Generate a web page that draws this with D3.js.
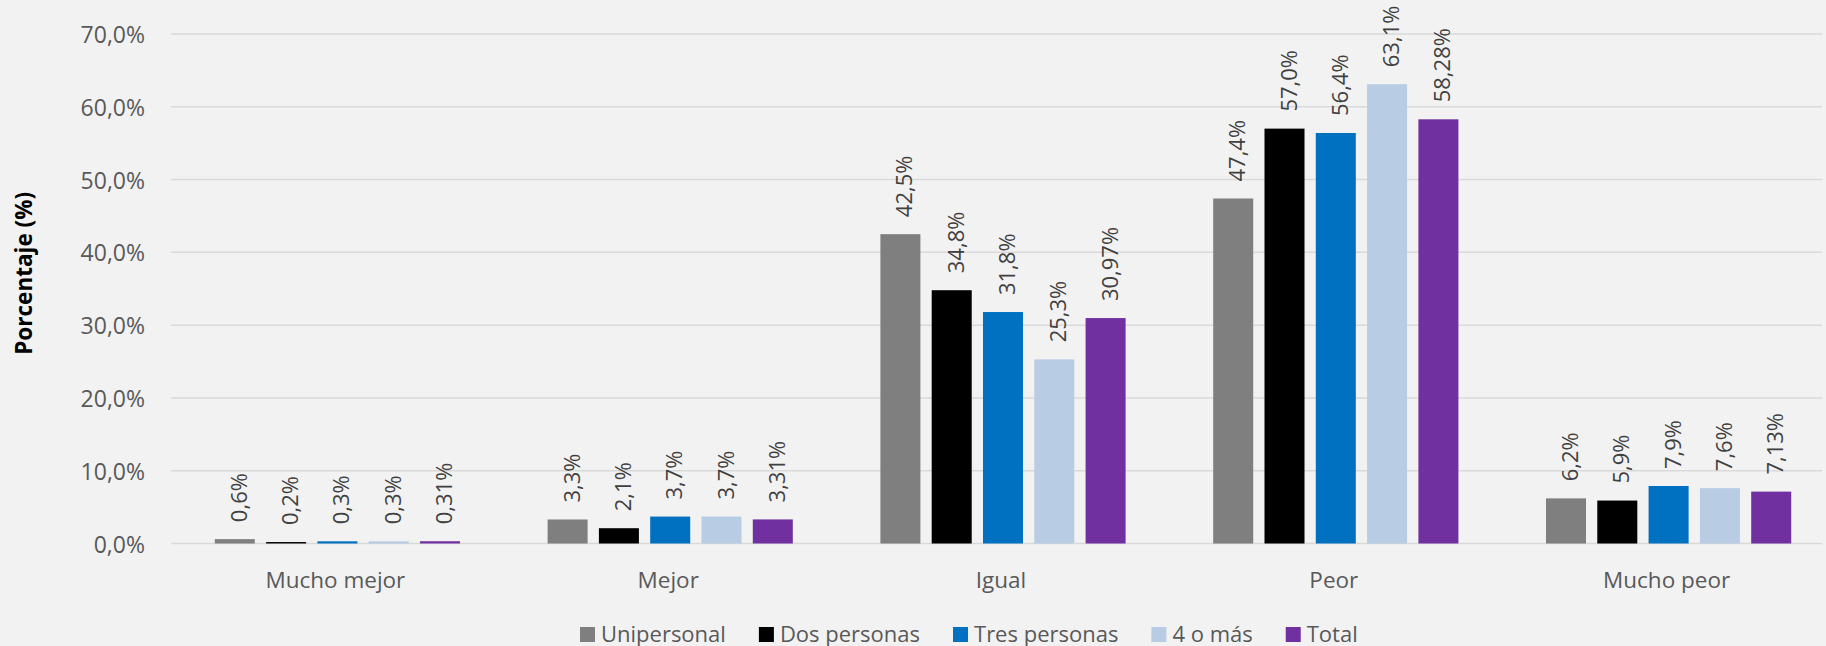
<!DOCTYPE html>
<html>
<head>
<meta charset="utf-8">
<script src="https://cdn.jsdelivr.net/npm/d3@7"></script>
<style>
  html, body { margin: 0; padding: 0; background: #f2f2f2; }
  svg { display: block; }
  text { font-family: "Open Sans", "Noto Sans", sans-serif; }
</style>
</head>
<body>
<svg id="chart" width="1826" height="646"></svg>
<script>
const categories = ["Mucho mejor", "Mejor", "Igual", "Peor", "Mucho peor"];
const seriesNames = ["Unipersonal", "Dos personas", "Tres personas", "4 o más", "Total"];
const unipersonal = [0.6, 3.3, 42.5, 47.4, 6.2];
const dosPersonas = [0.2, 2.1, 34.8, 57.0, 5.9];
const tresPersonas = [0.3, 3.7, 31.8, 56.4, 7.9];
const cuatroOMas = [0.3, 3.7, 25.3, 63.1, 7.6];
const total = [0.31, 3.31, 30.97, 58.28, 7.13];
const decimals = [1, 1, 1, 1, 2];
const colors = ["#7f7f7f", "#000000", "#0070c0", "#b8cce4", "#7030a0"];
const yTicks = [0, 10, 20, 30, 40, 50, 60, 70];

const seriesValues = [unipersonal, dosPersonas, tresPersonas, cuatroOMas, total];

const svg = d3.select("#chart");
const W = 1826, H = 646;
svg.append("rect").attr("width", W).attr("height", H).attr("fill", "#f2f2f2");

const left = 171, right = 1835, y0 = 543.5, yTop = 34;
const x0 = d3.scaleBand().domain(categories).range([left, right]).paddingInner(0).paddingOuter(0);
const bw = x0.bandwidth();
const groupW = 5 * 51.3;
const x1 = d3.scaleBand().domain(seriesNames)
  .range([(bw - groupW) / 2, (bw + groupW) / 2])
  .paddingInner(0.22).paddingOuter(0.11);
const y = d3.scaleLinear().domain([0, 70]).range([y0, yTop]);

// gridlines
svg.append("g").selectAll("line").data(yTicks).join("line")
  .attr("x1", left).attr("x2", 1822)
  .attr("y1", d => y(d)).attr("y2", d => y(d))
  .attr("stroke", "#d9d9d9").attr("stroke-width", 1.5);

// y tick labels
const fmtTick = d => d.toFixed(1).replace(".", ",") + "%";
svg.append("g").selectAll("text").data(yTicks).join("text")
  .attr("x", 145).attr("y", d => y(d))
  .attr("text-anchor", "end").attr("dominant-baseline", "central")
  .attr("font-size", 23).attr("fill", "#595959")
  .text(fmtTick);

// y axis title
svg.append("text")
  .attr("transform", `translate(23,${(191.7 + 355) / 2}) rotate(-90)`)
  .attr("text-anchor", "middle").attr("dominant-baseline", "central")
  .attr("font-size", 22.5).attr("font-weight", "bold").attr("fill", "#000")
  .text("Porcentaje (%)");

// bars
const data = [];
categories.forEach((c, ci) => {
  seriesNames.forEach((s, si) => {
    data.push({ c, s, si, v: seriesValues[si][ci] });
  });
});

const g = svg.append("g");
g.selectAll("rect").data(data).join("rect")
  .attr("x", d => x0(d.c) + x1(d.s))
  .attr("y", d => y(d.v))
  .attr("width", x1.bandwidth())
  .attr("height", d => y0 - y(d.v))
  .attr("fill", d => colors[d.si]);

// data labels
g.selectAll("text.lbl").data(data).join("text")
  .attr("class", "lbl")
  .attr("transform", d => `translate(${x0(d.c) + x1(d.s) + x1.bandwidth() / 2 + 3},${y(d.v) - 17}) rotate(-90)`)
  .attr("text-anchor", "start").attr("dominant-baseline", "central")
  .attr("font-size", 22).attr("fill", "#404040")
  .text(d => d.v.toFixed(decimals[d.si]).replace(".", ",") + "%");

// category labels
svg.append("g").selectAll("text").data(categories).join("text")
  .attr("x", d => x0(d) + bw / 2 - 2).attr("y", 588)
  .attr("text-anchor", "middle")
  .attr("font-size", 22.5).attr("fill", "#595959")
  .text(d => d);

// legend
const leg = svg.append("g");
let lx = 580;
seriesNames.forEach((s, i) => {
  leg.append("rect").attr("x", lx).attr("y", 627).attr("width", 15).attr("height", 15).attr("fill", colors[i]);
  const t = leg.append("text").attr("x", lx + 21).attr("y", 641.5)
    .attr("font-size", 22).attr("fill", "#595959").text(s);
  lx += 21 + t.node().getComputedTextLength() + 33;
});
</script>
</body>
</html>
